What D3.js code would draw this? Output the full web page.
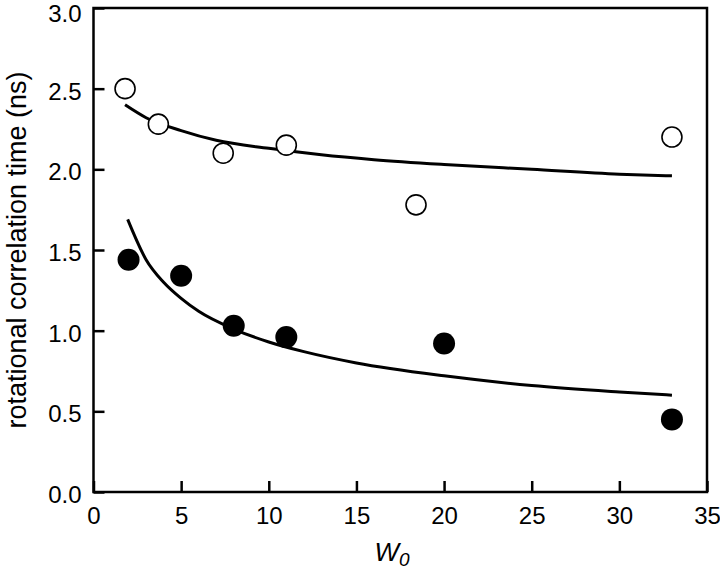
<!DOCTYPE html>
<html>
<head>
<meta charset="utf-8">
<script src="https://cdn.jsdelivr.net/npm/d3@7"></script>
<style>
  body { margin: 0; background: #fff; }
  text { font-family: "Liberation Sans", Arial, sans-serif; fill: #000; }
</style>
</head>
<body>
<script>
// measured points
var openX = [1.8, 3.7, 7.4, 11.0, 18.4, 33.0]
var openY = [2.50, 2.28, 2.10, 2.15, 1.78, 2.20]
var filledX = [2.0, 5.0, 8.0, 11.0, 20.0, 33.0]
var filledY = [1.44, 1.34, 1.03, 0.96, 0.92, 0.45]

// fitted curves
var openFitX = [1.8, 3, 5, 7, 10, 13, 16, 20, 25, 30, 33]
var openFitY = [2.40, 2.32, 2.24, 2.18, 2.13, 2.09, 2.06, 2.03, 2.00, 1.97, 1.96]
var filledFitX = [1.95, 3, 4, 5, 6, 8, 10, 12, 15, 20, 25, 30, 33]
var filledFitY = [1.69, 1.44, 1.30, 1.20, 1.12, 1.01, 0.93, 0.87, 0.80, 0.72, 0.66, 0.62, 0.60]

var xTicks = [0, 5, 10, 15, 20, 25, 30, 35]
var yTicks = [0, 0.5, 1.0, 1.5, 2.0, 2.5, 3.0]

var width = 720, height = 569
var svg = d3.select("body").append("svg")
    .attr("width", width)
    .attr("height", height)

var x = d3.scaleLinear().domain([0, 35]).range([93.5, 707])
var y = d3.scaleLinear().domain([0, 3]).range([492, 8])

function zip(a, b) { return a.map(function(v, i) { return [v, b[i]] }) }

// frame
svg.append("rect")
    .attr("x", x(0)).attr("y", y(3))
    .attr("width", x(35) - x(0)).attr("height", y(0) - y(3))
    .attr("fill", "none").attr("stroke", "#000").attr("stroke-width", 2.5)

var xAxis = svg.append("g")
    .attr("transform", "translate(0," + y(0) + ")")
    .call(d3.axisBottom(x).tickValues(xTicks).tickSize(-11).tickPadding(15).tickFormat(d3.format("d")))
var yAxis = svg.append("g")
    .attr("transform", "translate(" + x(0) + ",0)")
    .call(d3.axisLeft(y).tickValues(yTicks).tickSize(-11).tickPadding(12).tickFormat(d3.format(".1f")))

;[xAxis, yAxis].forEach(function(g) {
  g.select(".domain").remove()
  g.selectAll(".tick line").attr("stroke", "#000").attr("stroke-width", 2.5)
  g.selectAll(".tick text")
    .style("font-family", "Liberation Sans, Arial, sans-serif")
    .style("font-size", "24px")
    .attr("fill", "#000")
})
yAxis.selectAll(".tick text").attr("dy", function(d) { return d === 3 ? "0.55em" : "0.44em" })

var line = d3.line()
    .x(function(d) { return x(d[0]) })
    .y(function(d) { return y(d[1]) })
    .curve(d3.curveMonotoneX)

svg.append("path")
    .attr("d", line(zip(openFitX, openFitY)))
    .attr("fill", "none").attr("stroke", "#000").attr("stroke-width", 3)
svg.append("path")
    .attr("d", line(zip(filledFitX, filledFitY)))
    .attr("fill", "none").attr("stroke", "#000").attr("stroke-width", 3)

svg.selectAll("circle.open")
    .data(zip(openX, openY))
    .enter().append("circle")
    .attr("class", "open")
    .attr("cx", function(d) { return x(d[0]) })
    .attr("cy", function(d) { return y(d[1]) })
    .attr("r", 10)
    .attr("fill", "#fff").attr("stroke", "#000").attr("stroke-width", 1.6)

svg.selectAll("circle.filled")
    .data(zip(filledX, filledY))
    .enter().append("circle")
    .attr("class", "filled")
    .attr("cx", function(d) { return x(d[0]) })
    .attr("cy", function(d) { return y(d[1]) })
    .attr("r", 11)
    .attr("fill", "#000")

svg.append("text")
    .attr("transform", "translate(26," + (y(0) + y(3)) / 2 + ") rotate(-90)")
    .attr("text-anchor", "middle")
    .style("font-size", "27px")
    .text("rotational correlation time (ns)")

var xl = svg.append("text")
    .attr("x", 392).attr("y", 561)
    .attr("text-anchor", "middle")
    .style("font-size", "26px")
    .style("font-style", "italic")
xl.append("tspan").text("W")
xl.append("tspan").attr("dy", 5).style("font-size", "19px").text("0")
</script>
</body>
</html>
